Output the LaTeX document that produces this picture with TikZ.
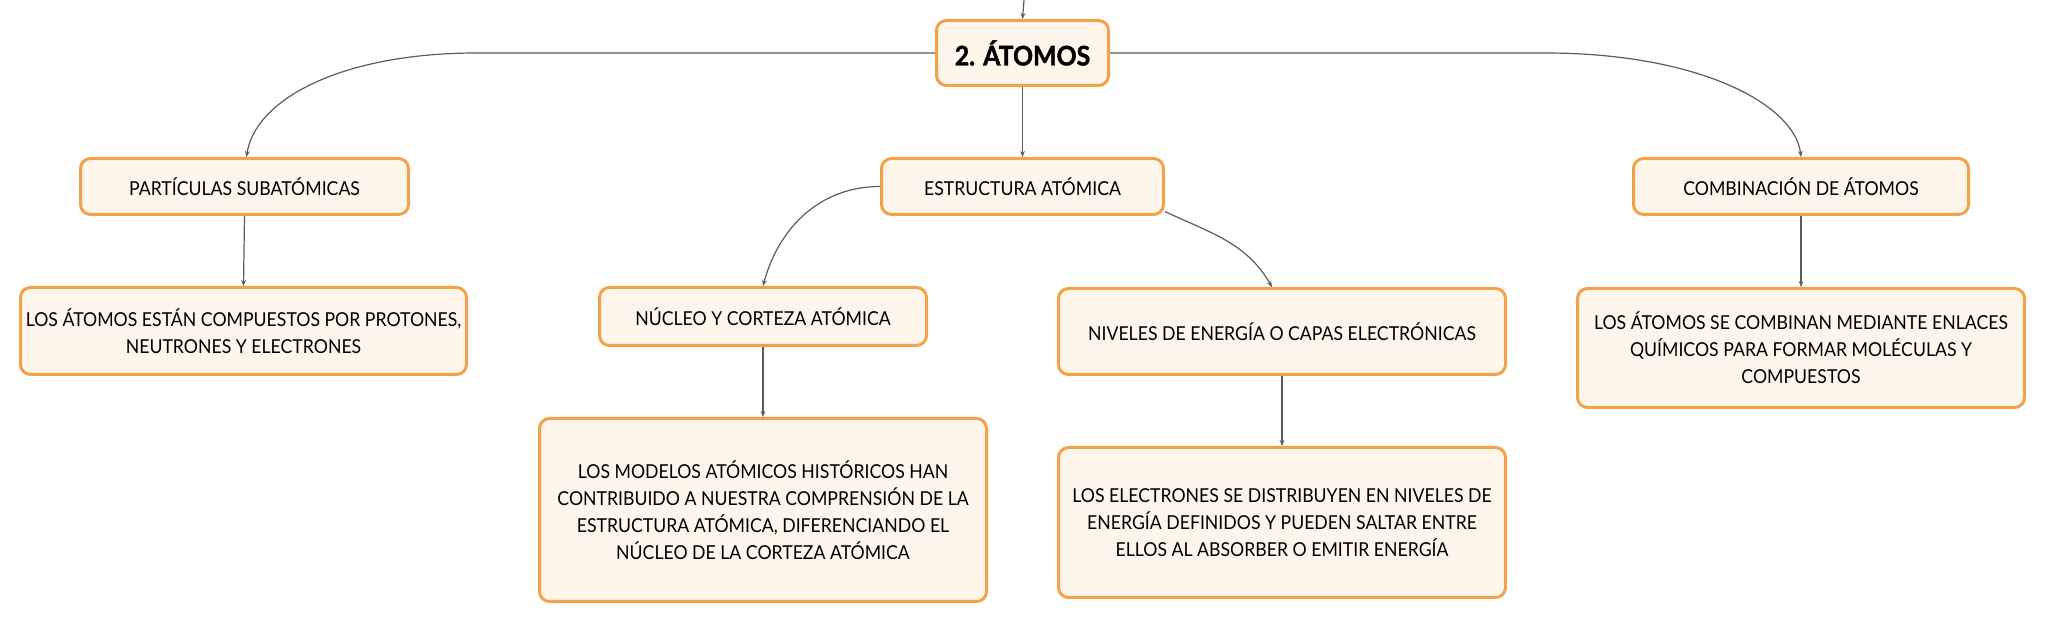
\documentclass[tikz,border=0pt]{standalone}
\usepackage{fontspec}
\setmainfont[FakeStretch=0.92,BoldFeatures={FakeBold=1.4}]{Lato}
\usetikzlibrary{arrows.meta}
\definecolor{boxfill}{HTML}{FEF5EB}
\definecolor{boxline}{HTML}{F3A24B}
\definecolor{linkgray}{HTML}{5C5C5C}

\begin{document}
\begin{tikzpicture}[x=0.5pt,y=-0.5pt,
    concept/.style={draw=boxline, fill=boxfill, line width=1.5pt, rounded corners=5pt,
      align=center, inner sep=0pt, font=\fontsize{9.6}{13.5}\selectfont},
    link/.style={draw=linkgray, line width=0.6pt, -{Stealth[length=3pt,width=2.4pt]}}]
  \useasboundingbox (0,0) rectangle (2046,624);

  \node [concept, minimum width=86pt, minimum height=32.5pt,
    font=\fontsize{13.5}{16}\selectfont\bfseries] (atomos) at (1022.5,53) {2. ÁTOMOS};

  \node [concept, minimum width=164pt, minimum height=28pt] (particulas) at (244.5,186.5) {PARTÍCULAS SUBATÓMICAS};
  \node [concept, minimum width=141pt, minimum height=28pt] (estructura) at (1022.5,186.5) {ESTRUCTURA ATÓMICA};
  \node [concept, minimum width=167.5pt, minimum height=28pt] (combinacion) at (1801,186.5) {COMBINACIÓN DE ÁTOMOS};

  \node [concept, minimum width=223pt, minimum height=43.5pt] (compuestos) at (243.5,331)
    {LOS ÁTOMOS ESTÁN COMPUESTOS POR PROTONES,\\NEUTRONES Y ELECTRONES};
  \node [concept, minimum width=163.5pt, minimum height=29pt] (nucleo) at (763,316.5) {NÚCLEO Y CORTEZA ATÓMICA};
  \node [concept, minimum width=223.5pt, minimum height=43pt] (niveles) at (1282,331.5) {NIVELES DE ENERGÍA O CAPAS ELECTRÓNICAS};
  \node [concept, minimum width=223.5pt, minimum height=59.5pt] (enlaces) at (1801,348)
    {LOS ÁTOMOS SE COMBINAN MEDIANTE ENLACES\\QUÍMICOS PARA FORMAR MOLÉCULAS Y\\COMPUESTOS};

  \node [concept, minimum width=223.5pt, minimum height=91.5pt] (modelos) at (763,510)
    {LOS MODELOS ATÓMICOS HISTÓRICOS HAN\\CONTRIBUIDO A NUESTRA COMPRENSIÓN DE LA\\ESTRUCTURA ATÓMICA, DIFERENCIANDO EL\\NÚCLEO DE LA CORTEZA ATÓMICA};
  \node [concept, minimum width=223.5pt, minimum height=75pt] (electrones) at (1282,522.5)
    {LOS ELECTRONES SE DISTRIBUYEN EN NIVELES DE\\ENERGÍA DEFINIDOS Y PUEDEN SALTAR ENTRE\\ELLOS AL ABSORBER O EMITIR ENERGÍA};

  \coordinate (top) at (1024,0);
  \draw [link] (top) -- (atomos.north);
  \draw [link] (atomos.west) -- (477,53) .. controls (340,53) and (255,100) .. ([xshift=1pt]particulas.north);
  \draw [link] (atomos.south) -- (estructura.north);
  \draw [link] (atomos.east) -- (1545,53) .. controls (1700,53) and (1795,105) .. (combinacion.north);

  \draw [link] (particulas.south) -- (compuestos.north);
  \draw [link] (estructura.west) to[out=180,in=75] (nucleo.north);
  \draw [link] (estructura.-10) to[out=-25,in=120] ([xshift=-5pt]niveles.north);
  \draw [link] (combinacion.south) -- (enlaces.north);

  \draw [link] (nucleo.south) -- (modelos.north);
  \draw [link] (niveles.south) -- (electrones.north);
\end{tikzpicture}
\end{document}
